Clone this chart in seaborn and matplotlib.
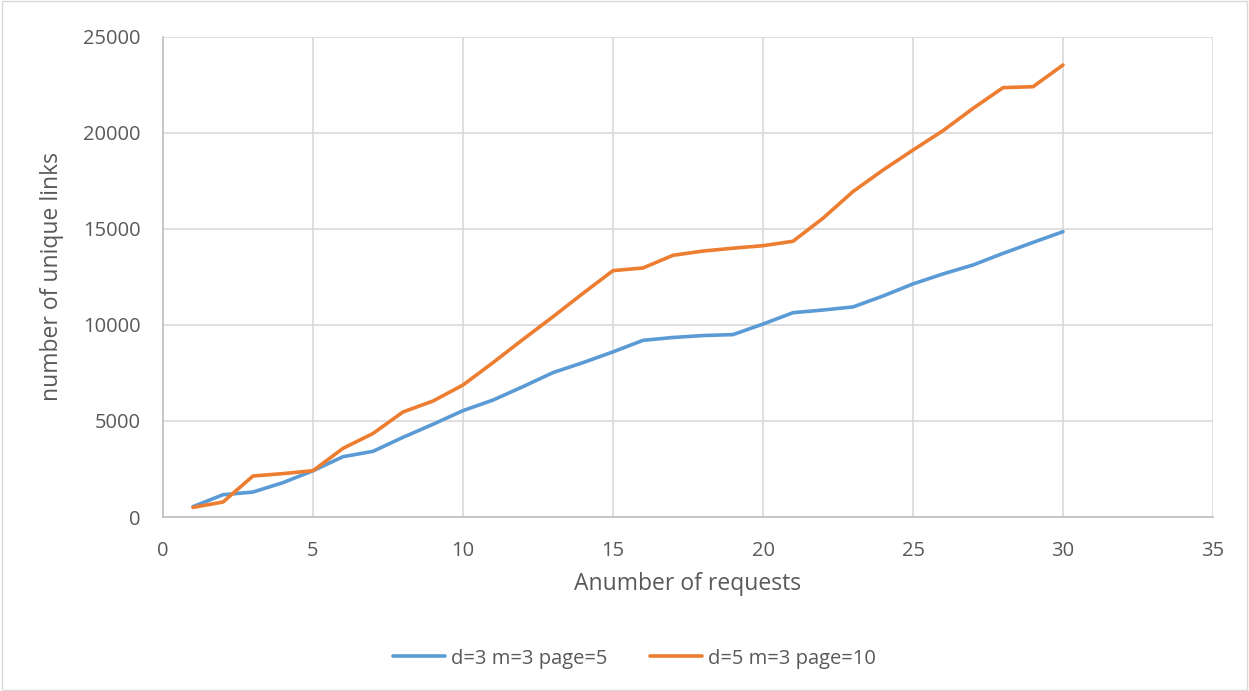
import pandas as pd
import matplotlib
matplotlib.use('Agg')
import matplotlib.pyplot as plt
import seaborn as sns

requests = list(range(1, 31))
series_a = [540, 1160, 1300, 1790, 2410, 3140, 3420, 4150, 4830, 5540,
            6090, 6790, 7520, 8040, 8600, 9200, 9350, 9450, 9500, 10050,
            10640, 10780, 10940, 11510, 12140, 12660, 13125, 13730, 14300, 14860]
series_b = [500, 780, 2135, 2260, 2410, 3575, 4350, 5470, 6040, 6875,
            8040, 9250, 10430, 11650, 12830, 12970, 13630, 13850, 14000, 14130,
            14360, 15560, 16950, 18070, 19110, 20120, 21280, 22360, 22410, 23540]
labels = ['d=3 m=3 page=5', 'd=5 m=3 page=10']

df = pd.DataFrame({
    'x': requests * 2,
    'y': series_a + series_b,
    'series': [labels[0]] * 30 + [labels[1]] * 30,
})

sns.set_style('white')
plt.rcParams['font.family'] = ['Open Sans', 'DejaVu Sans']
text_col = '#595959'
grid_col = '#D9D9D9'

fig = plt.figure(figsize=(12.49, 6.91), dpi=100)
ax = fig.add_axes([0.1305, 0.2518, 0.8407, 0.6947])

sns.lineplot(data=df, x='x', y='y', hue='series',
             palette=['#5B9BD5', '#ED7D31'], linewidth=2.6, ax=ax, legend=False)

ax.set_xlim(0, 35)
ax.set_ylim(0, 25000)
ax.set_xticks(range(0, 36, 5))
ax.set_yticks(range(0, 25001, 5000))
ax.grid(True, color=grid_col, linewidth=1.2)
ax.set_axisbelow(True)
for s in ['top', 'right']:
    ax.spines[s].set_visible(False)
for s in ['left', 'bottom']:
    ax.spines[s].set_color('#BFBFBF')
    ax.spines[s].set_linewidth(1.2)
ax.tick_params(colors=text_col, labelsize=14.5, length=0)
ax.tick_params(axis='x', pad=17)
ax.tick_params(axis='y', pad=16)
ax.set_xlabel('Anumber of requests', fontsize=16.5, color=text_col, labelpad=8)
ax.set_ylabel('number of unique links', fontsize=16.5, color=text_col, labelpad=14)

handles = [plt.Line2D([], [], color=c, linewidth=2.6) for c in ['#5B9BD5', '#ED7D31']]
fig.legend(handles, labels, loc='center', bbox_to_anchor=(0.508, 0.047), ncol=2,
           frameon=False, fontsize=14.5, labelcolor=text_col, handlelength=2.6,
           handletextpad=0.3, columnspacing=2.1)

fig.patches.append(plt.Rectangle((0.002, 0.002), 0.996, 0.996, transform=fig.transFigure,
                                 fill=False, edgecolor='#D9D9D9', linewidth=1))

plt.savefig('out.png', dpi=100)
